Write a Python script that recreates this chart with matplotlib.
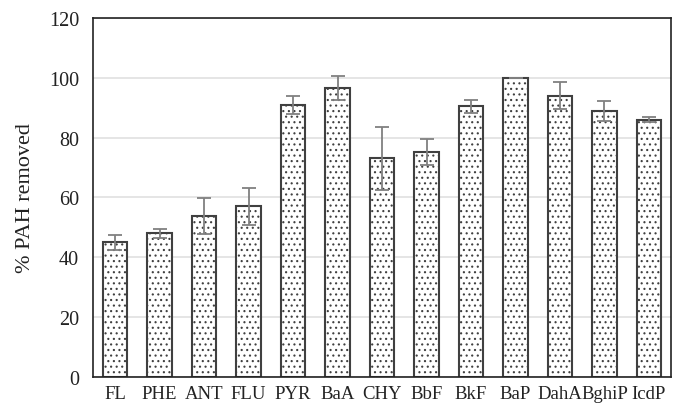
import matplotlib
matplotlib.use("Agg")
import matplotlib.pyplot as plt
import numpy as np

categories = ["FL", "PHE", "ANT", "FLU", "PYR", "BaA", "CHY", "BbF", "BkF", "BaP", "DahA", "BghiP", "IcdP"]
values = [45.0, 48.0, 53.8, 57.0, 90.8, 96.5, 73.1, 75.1, 90.4, 99.9, 94.0, 88.8, 86.0]
errors = [2.5, 1.5, 6.0, 6.2, 3.0, 4.0, 10.5, 4.4, 2.2, 0.1, 4.5, 3.4, 0.8]
yticks = [0, 20, 40, 60, 80, 100, 120]

plt.rcParams['font.family'] = ['Liberation Serif', 'DejaVu Serif']
plt.rcParams['hatch.linewidth'] = 0.8
plt.rcParams['hatch.color'] = '#202020'

fig = plt.figure(figsize=(6.78, 4.10), dpi=100)
ax = fig.add_axes([0.137, 0.078, 0.853, 0.876])

x = np.arange(len(categories))
ax.bar(x, values, width=0.55, color='white', edgecolor='#404040', linewidth=1.5,
       hatch='...', zorder=2)
ax.errorbar(x, values, yerr=errors, fmt='none', ecolor='#808080', elinewidth=1.3,
            capsize=5, capthick=1.3, zorder=3)

ax.set_xlim(-0.5, len(categories) - 0.5)
ax.set_ylim(0, 120)
ax.set_yticks(yticks)
ax.set_xticks(x)
ax.set_xticklabels(categories)
ax.tick_params(axis='y', length=0, labelsize=14.5, colors='#222222', pad=10)
ax.tick_params(axis='x', length=0, labelsize=13.5, colors='#222222', pad=6)
ax.yaxis.grid(True, color='#e0e0e0', linewidth=1.2, zorder=0)
ax.set_axisbelow(True)
for s in ax.spines.values():
    s.set_color('#222222')
    s.set_linewidth(1.2)
ax.set_ylabel('% PAH removed', fontsize=16, color='#222222', labelpad=10)

fig.savefig('out.png', dpi=100)
